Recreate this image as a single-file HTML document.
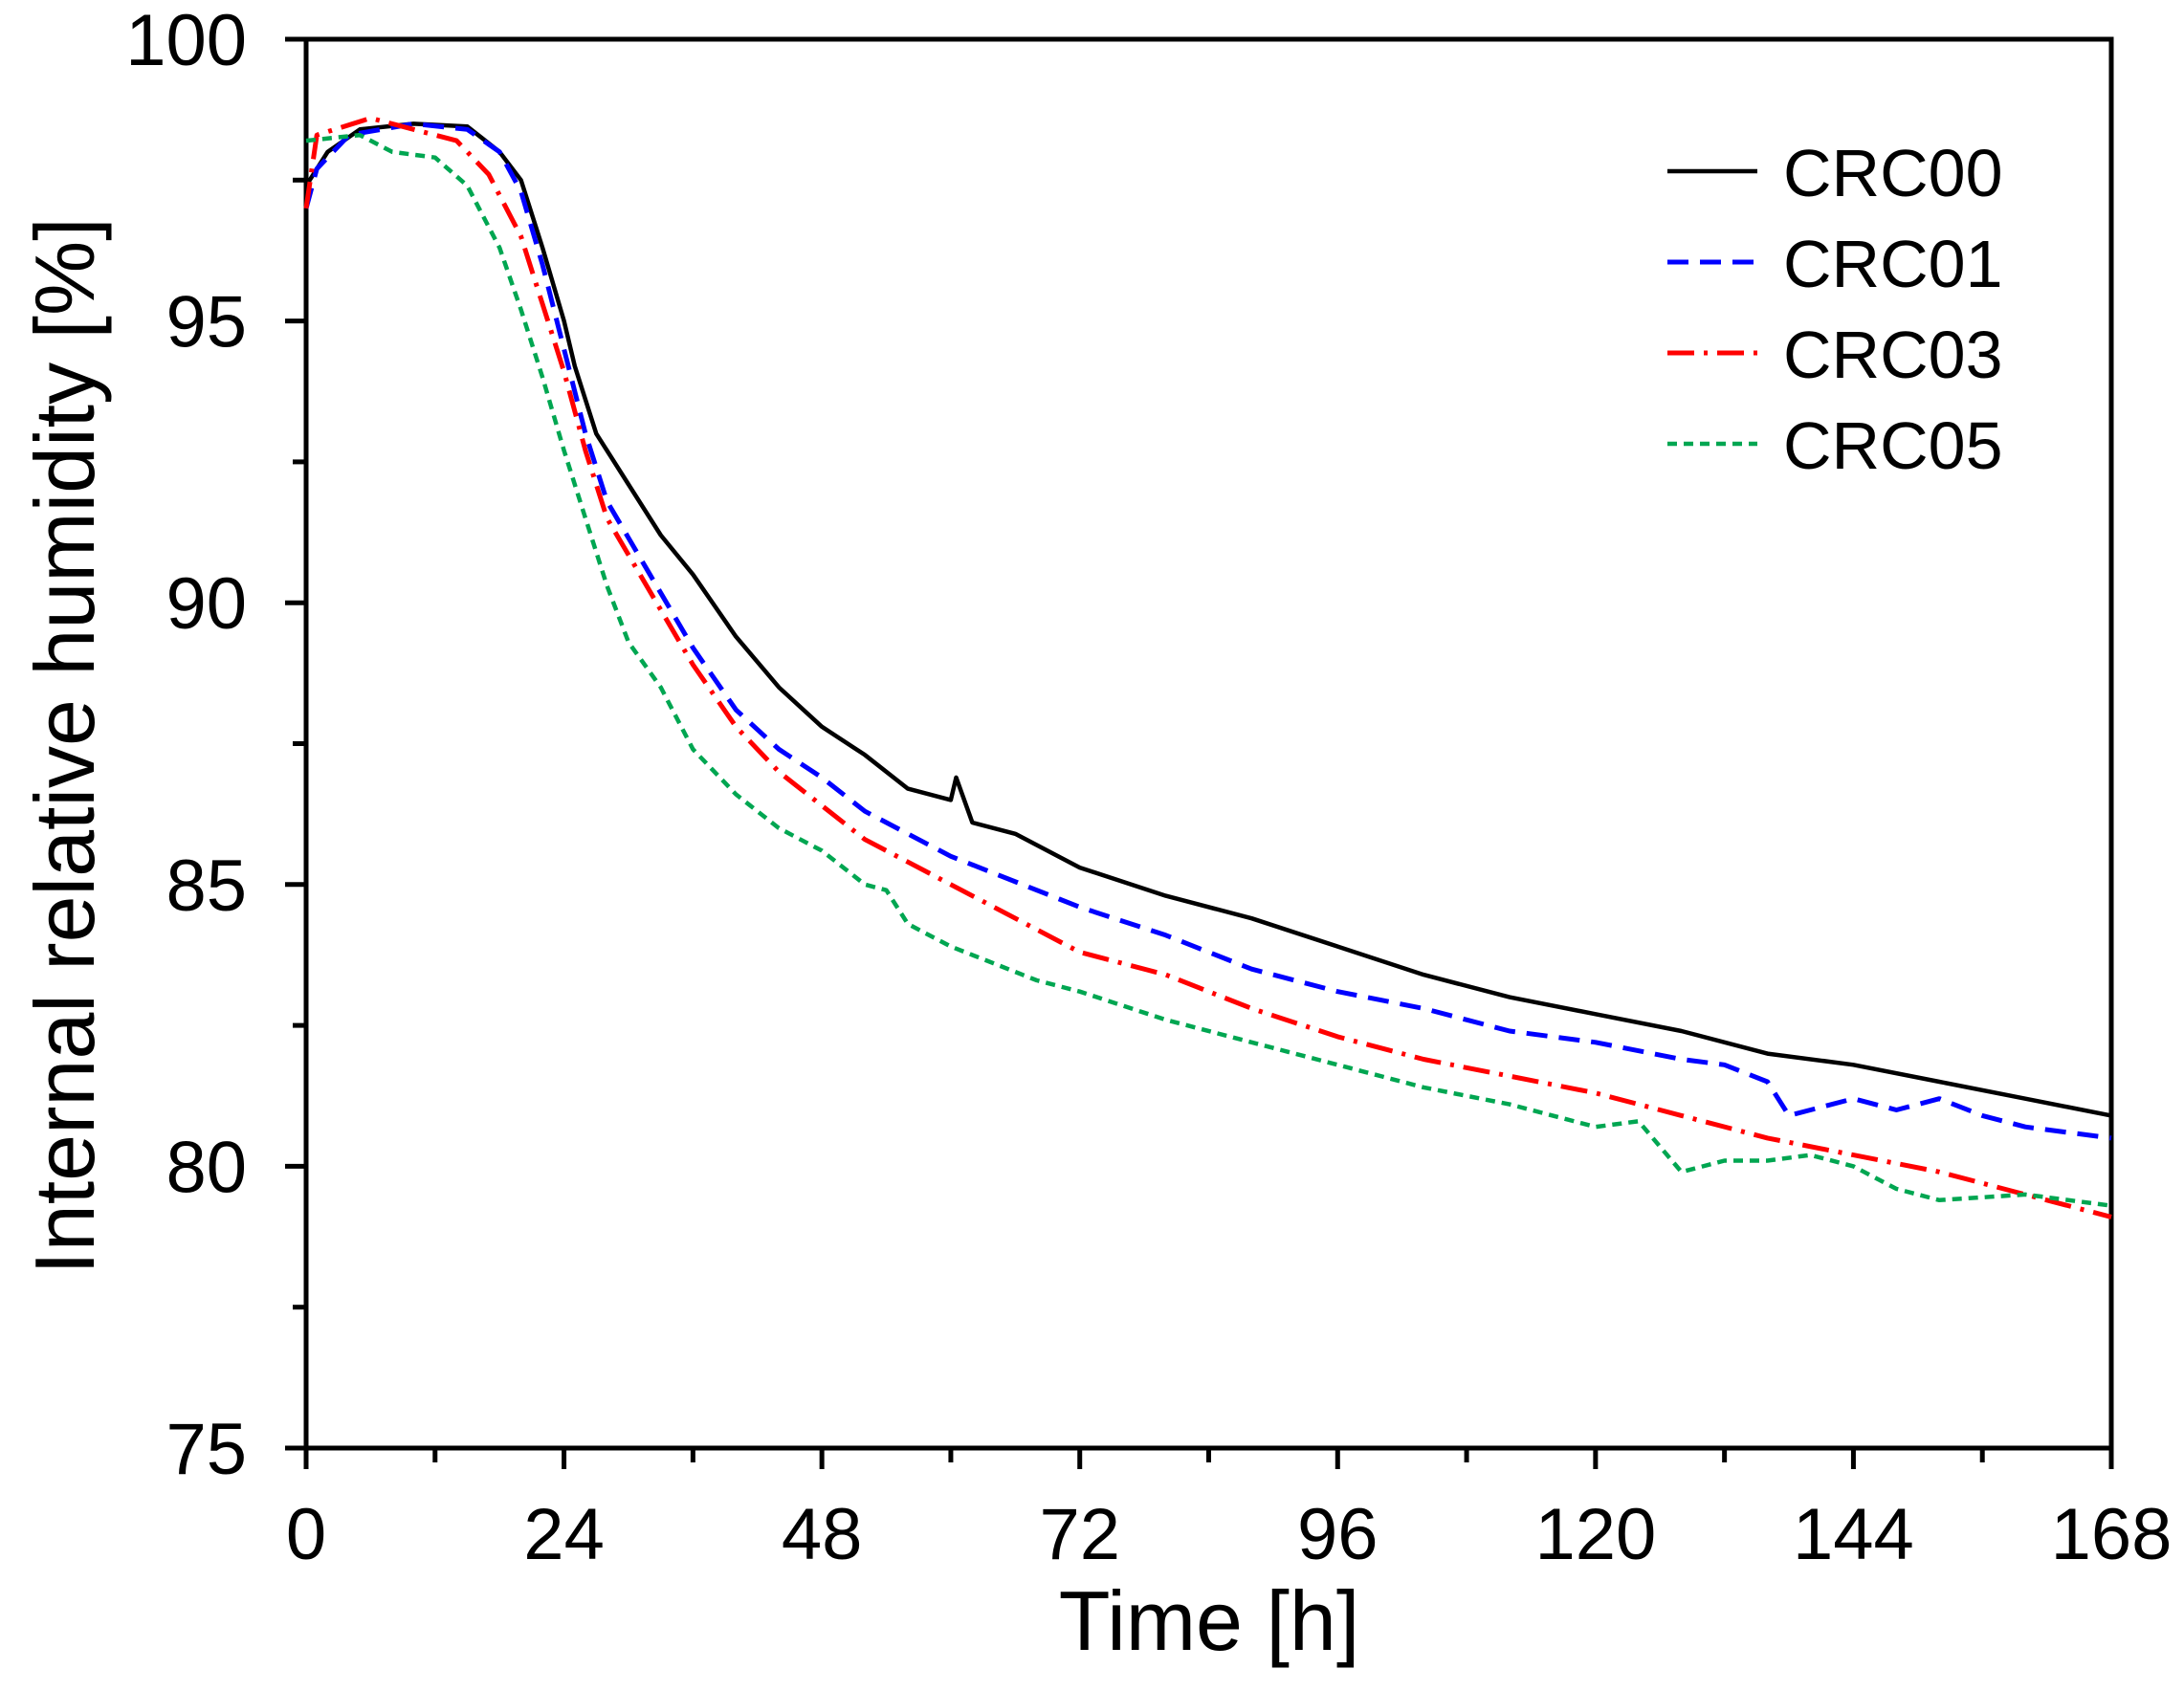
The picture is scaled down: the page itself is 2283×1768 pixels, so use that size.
<!DOCTYPE html>
<html><head><meta charset="utf-8"><style>
html,body{margin:0;padding:0;background:#fff;}
svg{display:block;font-family:"Liberation Sans",Arial,sans-serif;}
</style></head><body>
<svg id="chart" width="2283" height="1768" viewBox="0 0 2283 1768" xmlns="http://www.w3.org/2000/svg">
<g id="axes"></g>
<g id="series"></g>
<g id="legend"></g>
</svg>
<script>
const xTicks = [0,24,48,72,96,120,144,168];
const yTicks = [75,80,85,90,95,100];
const seriesNames = ["CRC00","CRC01","CRC03","CRC05"];
const t00 = [0,2,5,10,15,18,20,22,24,25,27,30,33,36,40,44,48,52,56,60,60.5,62,66,72,80,88,96,104,112,120,128,136,144,152,160,168];
const v00 = [97.4,98.0,98.4,98.5,98.45,98.0,97.5,96.3,95.0,94.2,93.0,92.1,91.2,90.5,89.4,88.5,87.8,87.3,86.7,86.5,86.9,86.1,85.9,85.3,84.8,84.4,83.9,83.4,83.0,82.7,82.4,82.0,81.8,81.5,81.2,80.9];
const t01 = [0,1,4,10,15,18,20,22,24,26,28,32,36,40,44,48,52,56,60,64,72,80,88,96,104,112,120,128,132,136,138,140,144,148,152,156,160,168];
const v01 = [97.0,97.7,98.3,98.5,98.4,98.0,97.3,96.0,94.5,93.0,91.8,90.5,89.2,88.1,87.4,86.9,86.3,85.9,85.5,85.2,84.6,84.1,83.5,83.1,82.8,82.4,82.2,81.9,81.8,81.5,80.9,81.0,81.2,81.0,81.2,80.9,80.7,80.5];
const t03 = [0,1,6,10,14,17,20,22,24,26,28,32,36,40,44,48,52,56,60,64,68,72,80,88,96,104,112,120,128,136,144,152,160,168];
const v03 = [97.0,98.3,98.6,98.4,98.2,97.6,96.5,95.3,94.1,92.7,91.5,90.2,88.9,87.8,87.0,86.4,85.8,85.4,85.0,84.6,84.2,83.8,83.4,82.8,82.3,81.9,81.6,81.3,80.9,80.5,80.2,79.9,79.5,79.1];
const t05 = [0,5,8,12,15,18,20,22,24,26,28,30,33,36,40,44,48,52,54,56,60,64,68,72,80,88,96,104,112,120,124,128,132,136,140,144,148,152,160,168];
const v05 = [98.2,98.3,98.0,97.9,97.4,96.3,95.2,94.0,92.7,91.5,90.3,89.3,88.5,87.4,86.6,86.0,85.6,85.0,84.9,84.3,83.9,83.6,83.3,83.1,82.6,82.2,81.8,81.4,81.1,80.7,80.8,79.9,80.1,80.1,80.2,80.0,79.6,79.4,79.5,79.3];

const L=320,R=2207,T=41,B=1514;
const X=t=>L+(t-0)/(168-0)*(R-L);
const Y=v=>B-(v-75)/(100-75)*(B-T);
const NS="http://www.w3.org/2000/svg";
function mk(tag,attrs,parent){const e=document.createElementNS(NS,tag);for(const k in attrs)e.setAttribute(k,attrs[k]);parent.appendChild(e);return e;}
const axes=document.getElementById('axes');
const frame=mk('rect',{x:L,y:T,width:R-L,height:B-T,fill:'none',stroke:'#000','stroke-width':5},axes);


for(let v=75;v<=100;v+=2.5){const major=Math.abs(v%5)<1e-6;
 const tk=mk('line',{x1:L-(major?22:14),x2:L,y1:Y(v),y2:Y(v),stroke:'#000','stroke-width':5},axes);
 
 }
yTicks.forEach(v=>{const tx=mk('text',{x:258,y:Y(v)+27,'text-anchor':'end','font-size':76,fill:'#000'},axes);tx.textContent=v;
 
 });
for(let t=0;t<=168;t+=12){const major=t%24===0;
 const tk=mk('line',{x1:X(t),x2:X(t),y1:B,y2:B+(major?22:15),stroke:'#000','stroke-width':5},axes);
 
 }
xTicks.forEach(t=>{const tx=mk('text',{x:X(t),y:1630,'text-anchor':'middle','font-size':76,fill:'#000'},axes);tx.textContent=t;
 
 });
const xt=mk('text',{x:1264,y:1725,'text-anchor':'middle','font-size':88,fill:'#000'},axes);xt.textContent='Time [h]';


const yt=mk('text',{x:0,y:0,'text-anchor':'middle','font-size':88,fill:'#000',transform:'translate(98,780) rotate(-90)'},axes);yt.textContent='Internal relative humidity [%]';



const styles=[
 {c:'#000',d:'',w:4.5},
 {c:'#0000ff',d:'22 12',w:5},
 {c:'#ff0000',d:'28 10 4 10',w:5},
 {c:'#00a651',d:'10 7',w:4.5}];
const ts=[t00,t01,t03,t05], vs=[v00,v01,v03,v05];
const sg=document.getElementById('series');
ts.forEach((tt,i)=>{const d=tt.map((t,j)=>(j?'L':'M')+X(t).toFixed(1)+' '+Y(vs[i][j]).toFixed(1)).join(' ');
 const p=mk('path',{d:d,fill:'none',stroke:styles[i].c,'stroke-width':styles[i].w,'stroke-dasharray':styles[i].d,'stroke-linejoin':'round'},sg);
 
 });
const lg=document.getElementById('legend');
seriesNames.forEach((n,i)=>{const y=179+i*95;
 const ln=mk('line',{x1:1743,x2:1837,y1:y,y2:y,stroke:styles[i].c,'stroke-width':styles[i].w,'stroke-dasharray':styles[i].d},lg);
 
 
 const tx=mk('text',{x:1864,y:y+26,'font-size':70,fill:'#000'},lg);tx.textContent=n;
 
 });
</script>
</body></html>
